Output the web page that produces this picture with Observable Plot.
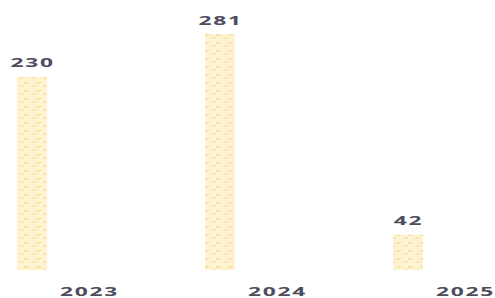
<!DOCTYPE html>
<html>
<head>
<meta charset="utf-8">
<script src="https://cdn.jsdelivr.net/npm/d3@7"></script>
<script src="https://cdn.jsdelivr.net/npm/@observablehq/plot@0.6"></script>
<style>
  html, body { margin: 0; padding: 0; background: #fff; }
  svg { display: block; }
  svg text { letter-spacing: 1px; }
</style>
</head>
<body>
<div id="chart"></div>
<script>
const years = ["2023", "2024", "2025"];
const counts = [230, 281, 42];

const data = years.map((y, i) => ({year: y, count: counts[i]}));

const chart = Plot.plot({
  width: 495,
  height: 298,
  marginLeft: 17,
  marginRight: 70,
  marginTop: 34,
  marginBottom: 28,
  style: {fontFamily: "'Open Sans', sans-serif", background: "#fff"},
  x: {domain: years, paddingInner: 0.841, paddingOuter: 0, align: 0, label: null},
  y: {domain: [0, 281], axis: null},
  marks: [
    Plot.barY(data, {x: "year", y: "count", fill: "url(#barpat)"}),
    Plot.text(data, {x: "year", y: "count", text: d => String(d.count), dy: -14,
      fontSize: 13, fontWeight: 700, fill: "#4d4d5e"}),
    Plot.axisX({tickSize: 0, dx: 57, dy: 7, fontSize: 13, fontWeight: 700,
      color: "#4d4d5e", label: null})
  ]
});

// widen glyphs horizontally, as in the reference
chart.querySelectorAll("text").forEach(t => {
  const tr = t.getAttribute("transform");
  if (tr) {
    t.setAttribute("transform", tr + " scale(1.75,1)");
  } else {
    const x = +t.getAttribute("x") || 0, y = +t.getAttribute("y") || 0;
    t.removeAttribute("x"); t.removeAttribute("y");
    t.setAttribute("transform", `translate(${x},${y}) scale(1.75,1)`);
  }
});

const ns = "http://www.w3.org/2000/svg";
const defs = document.createElementNS(ns, "defs");
defs.innerHTML = `
<pattern id="barpat" patternUnits="userSpaceOnUse" width="12" height="8">
  <rect width="12" height="8" fill="#fef3d2"/>
  <rect x="0" y="2" width="5" height="2" fill="#fae3a3"/>
  <rect x="7" y="5" width="5" height="2" fill="#fbe7b0"/>
</pattern>`;
chart.insertBefore(defs, chart.firstChild);
document.getElementById("chart").appendChild(chart);
</script>
</body>
</html>
